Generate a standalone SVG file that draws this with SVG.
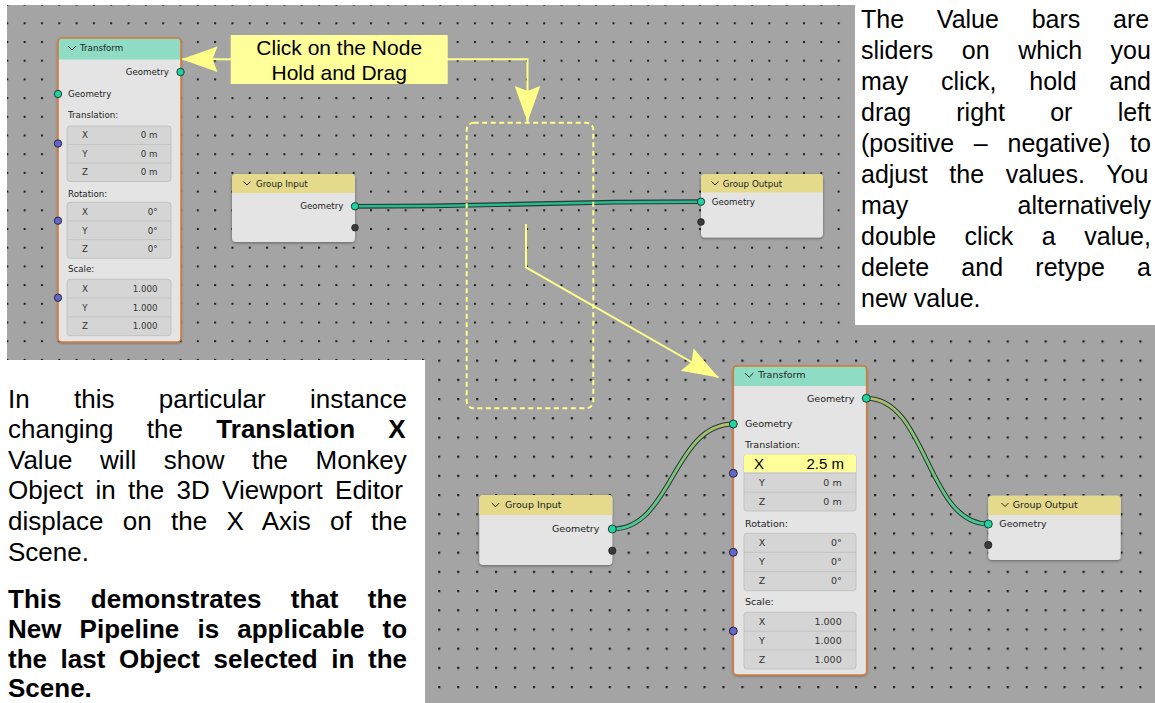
<svg xmlns="http://www.w3.org/2000/svg" width="1155" height="703" viewBox="0 0 1155 703">
<defs>
<style>
.bg{fill:#a4a4a4}
.nbody{fill:#e4e4e4}
.sel{fill:none;stroke:#d77a3a;stroke-width:1.6}
.hdrT{fill:#8fdcc5}
.hdrG{fill:#e5da8b}
.t{font-family:"DejaVu Sans",sans-serif;fill:#1c1c1c}
.t1{font-size:8.7px}
.t2{font-size:9.5px}
.fl{fill:#d5d5d5;stroke:#bcbcbc;stroke-width:0.8}
.sep{stroke:#c0c0c0;stroke-width:0.8}
.fv{fill:#333}
.chev{fill:none;stroke:#222;stroke-width:1}
.sg{fill:#1fd3a2;stroke:#161616;stroke-width:0.8}
.sv{fill:#6565cc;stroke:#161616;stroke-width:0.8}
.sd{fill:#3a3a3a;stroke:#161616;stroke-width:0.6}
.ann{fill:none;stroke:#ffff88;stroke-width:2}
.doc{font-family:"Liberation Sans",Arial,sans-serif;fill:#000}
.lo{fill:none;stroke:#263b33;stroke-width:4.8}
</style>
<pattern id="dotsA" patternUnits="userSpaceOnUse" x="6.3" y="22.3" width="17.32" height="18.7">
<rect width="2" height="2" fill="#1e1e1e"/>
</pattern>
<pattern id="dotsB" patternUnits="userSpaceOnUse" x="874" y="398" width="18.95" height="19.2">
<rect width="2.2" height="2.2" fill="#1e1e1e"/>
</pattern>
<filter id="shadow" x="-15%" y="-15%" width="130%" height="130%">
<feDropShadow dx="0" dy="1" stdDeviation="1.6" flood-color="#000" flood-opacity="0.4"/>
</filter>
<marker id="stealth" viewBox="-37 -14 38 28" refX="0" refY="0" markerWidth="38" markerHeight="28" markerUnits="userSpaceOnUse" orient="auto">
<path d="M0,0 L-36,-12.8 L-31,0 L-36,12.8 Z" fill="#ffff88"/>
</marker>
<linearGradient id="g1" gradientUnits="userSpaceOnUse" x1="612" y1="0" x2="733" y2="0">
<stop offset="0" stop-color="#35c99a"/><stop offset="1" stop-color="#c2bb66"/>
</linearGradient>
<linearGradient id="g2" gradientUnits="userSpaceOnUse" x1="866" y1="0" x2="988" y2="0">
<stop offset="0" stop-color="#c2bb66"/><stop offset="1" stop-color="#35c99a"/>
</linearGradient>
</defs>

<rect width="1155" height="703" fill="#ffffff"/>
<g id="backgrounds">
<path class="bg" d="M7,5 H855 V330 H425 V360 H7 Z"/>
<path d="M7,5 H855 V330 H425 V360 H7 Z" fill="url(#dotsA)"/>
<path class="bg" d="M425,330 H855 V325 H1155 V703 H425 Z"/>
<path d="M425,330 H855 V325 H1155 V703 H425 Z" fill="url(#dotsB)"/>
</g>

<g id="connectors">
<path class="lo" d="M355,206.3 C528,206.3 528,201.7 701,201.7"/>
<path fill="none" stroke="#27b990" stroke-width="2.6" d="M355,206.3 C528,206.3 528,201.7 701,201.7"/>
<path class="lo" d="M612.3,529 C672,529 673,424 733.3,424"/>
<path fill="none" stroke="url(#g1)" stroke-width="2.8" d="M612.3,529 C672,529 673,424 733.3,424"/>
<path class="lo" d="M866.7,398.3 C927,398.3 927,524 988.3,524"/>
<path fill="none" stroke="url(#g2)" stroke-width="2.8" d="M866.7,398.3 C927,398.3 927,524 988.3,524"/>
<path class="ann" d="M231,59.3 H181.5" marker-end="url(#stealth)"/>
<path class="ann" d="M447,59.3 H527.5 V122" marker-end="url(#stealth)"/>
<path class="ann" d="M526,224 V267.3 L718.5,377.5" marker-end="url(#stealth)"/>
</g>

<g id="drag-region">
<rect x="466.7" y="122.7" width="126.6" height="285.6" rx="7" fill="none" stroke="#ffff88" stroke-width="2" stroke-dasharray="5 3.5"/>
</g>

<g id="callout">
<rect x="230.7" y="35" width="217" height="49" fill="#ffff99"/>
<text class="doc" x="339.2" y="54.5" font-size="21" text-anchor="middle">Click on the Node</text>
<text class="doc" x="339.2" y="79.5" font-size="21" text-anchor="middle">Hold and Drag</text>
</g>

<g id="node-transform-top">
<rect x="58" y="38" width="123" height="304" rx="4" class="nbody" filter="url(#shadow)"/>
<path class="hdrT" d="M58,59.5 V42 A4,4 0 0 1 62,38 H177 A4,4 0 0 1 181,42 V59.5 Z"/>
<rect x="58" y="38" width="123" height="304" rx="4" class="sel"/>
<path class="chev" d="M68,46 L72,50 L76,46"/>
<text class="t t1" x="80" y="51">Transform</text>
<text class="t t1" x="169" y="75.2" text-anchor="end">Geometry</text>
<text class="t t1" x="68" y="97.3">Geometry</text>
<text class="t t1" x="68" y="118.3">Translation:</text>
<rect class="fl" x="67" y="126" width="104" height="55.5" rx="3"/>
<path class="sep" d="M67,144.5 H171 M67,163 H171"/>
<g class="t t1 fv">
<text x="85" y="138.4" text-anchor="middle">X</text><text x="157.5" y="138.4" text-anchor="end">0 m</text>
<text x="85" y="156.9" text-anchor="middle">Y</text><text x="157.5" y="156.9" text-anchor="end">0 m</text>
<text x="85" y="175.4" text-anchor="middle">Z</text><text x="157.5" y="175.4" text-anchor="end">0 m</text>
</g>
<text class="t t1" x="68" y="197.3">Rotation:</text>
<rect class="fl" x="67" y="202.3" width="104" height="56" rx="3"/>
<path class="sep" d="M67,221 H171 M67,239.6 H171"/>
<g class="t t1 fv">
<text x="85" y="214.8" text-anchor="middle">X</text><text x="157.5" y="214.8" text-anchor="end">0°</text>
<text x="85" y="233.5" text-anchor="middle">Y</text><text x="157.5" y="233.5" text-anchor="end">0°</text>
<text x="85" y="252.1" text-anchor="middle">Z</text><text x="157.5" y="252.1" text-anchor="end">0°</text>
</g>
<text class="t t1" x="68" y="272.3">Scale:</text>
<rect class="fl" x="67" y="279.3" width="104" height="56.4" rx="3"/>
<path class="sep" d="M67,298.1 H171 M67,316.9 H171"/>
<g class="t t1 fv">
<text x="85" y="291.8" text-anchor="middle">X</text><text x="157.5" y="291.8" text-anchor="end">1.000</text>
<text x="85" y="310.6" text-anchor="middle">Y</text><text x="157.5" y="310.6" text-anchor="end">1.000</text>
<text x="85" y="329.4" text-anchor="middle">Z</text><text x="157.5" y="329.4" text-anchor="end">1.000</text>
</g>
<circle class="sg" cx="180.5" cy="72" r="3.7"/>
<circle class="sg" cx="58" cy="94" r="3.7"/>
<circle class="sv" cx="58" cy="143.5" r="3.7"/>
<circle class="sv" cx="58" cy="220.7" r="3.7"/>
<circle class="sv" cx="58" cy="297.7" r="3.7"/>
</g>

<g id="node-group-input-top">
<rect x="232" y="174" width="123" height="68" rx="4" class="nbody" filter="url(#shadow)"/>
<path class="hdrG" d="M232,193 V178 A4,4 0 0 1 236,174 H351 A4,4 0 0 1 355,178 V193 Z"/>
<path class="chev" d="M243.5,181.5 L247,185 L250.5,181.5"/>
<text class="t t1" x="256" y="186.5">Group Input</text>
<text class="t t1" x="343.5" y="209.3" text-anchor="end">Geometry</text>
<circle class="sg" cx="355" cy="206.3" r="3.7"/>
<circle class="sd" cx="355" cy="227.7" r="3.4"/>
</g>

<g id="node-group-output-top">
<rect x="701" y="174" width="122" height="63.5" rx="4" class="nbody" filter="url(#shadow)"/>
<path class="hdrG" d="M701,192.5 V178 A4,4 0 0 1 705,174 H819 A4,4 0 0 1 823,178 V192.5 Z"/>
<path class="chev" d="M711.5,181.5 L715,185 L718.5,181.5"/>
<text class="t t1" x="722.7" y="186.5">Group Output</text>
<text class="t t1" x="711.7" y="204.9">Geometry</text>
<circle class="sg" cx="701" cy="201.7" r="3.7"/>
<circle class="sd" cx="701" cy="222" r="3.4"/>
</g>

<g id="node-transform-bottom">
<rect x="733.3" y="366" width="133.4" height="309" rx="4" class="nbody" filter="url(#shadow)"/>
<path class="hdrT" d="M733.3,386 V370 A4,4 0 0 1 737.3,366 H862.7 A4,4 0 0 1 866.7,370 V386 Z"/>
<rect x="733.3" y="366" width="133.4" height="309" rx="4" class="sel"/>
<path class="chev" d="M745,373 L749.2,377.2 L753.4,373"/>
<text class="t t2" x="758.3" y="378.4">Transform</text>
<text class="t t2" x="854.3" y="401.7" text-anchor="end">Geometry</text>
<text class="t t2" x="745" y="427.4">Geometry</text>
<text class="t t2" x="745" y="447.7">Translation:</text>
<rect class="fl" x="744" y="454.3" width="112" height="56.7" rx="3"/>
<path d="M744,472.3 V457.3 A3,3 0 0 1 747,454.3 H853 A3,3 0 0 1 856,457.3 V472.3 Z" fill="#ffff99"/>
<path class="sep" d="M744,473.2 H856 M744,492.1 H856"/>
<text class="doc" x="759" y="468.8" font-size="15" text-anchor="middle">X</text>
<text class="doc" x="844" y="468.8" font-size="15" text-anchor="end">2.5 m</text>
<g class="t t2 fv">
<text x="762" y="486.1" text-anchor="middle">Y</text><text x="841.7" y="486.1" text-anchor="end">0 m</text>
<text x="762" y="505" text-anchor="middle">Z</text><text x="841.7" y="505" text-anchor="end">0 m</text>
</g>
<text class="t t2" x="745" y="526.5">Rotation:</text>
<rect class="fl" x="744" y="533.3" width="112" height="57.4" rx="3"/>
<path class="sep" d="M744,552.4 H856 M744,571.6 H856"/>
<g class="t t2 fv">
<text x="762" y="546.1" text-anchor="middle">X</text><text x="841.7" y="546.1" text-anchor="end">0°</text>
<text x="762" y="565.2" text-anchor="middle">Y</text><text x="841.7" y="565.2" text-anchor="end">0°</text>
<text x="762" y="584.4" text-anchor="middle">Z</text><text x="841.7" y="584.4" text-anchor="end">0°</text>
</g>
<text class="t t2" x="745" y="605">Scale:</text>
<rect class="fl" x="744" y="612.3" width="112" height="56.7" rx="3"/>
<path class="sep" d="M744,631.2 H856 M744,650.1 H856"/>
<g class="t t2 fv">
<text x="762" y="625.1" text-anchor="middle">X</text><text x="841.7" y="625.1" text-anchor="end">1.000</text>
<text x="762" y="644" text-anchor="middle">Y</text><text x="841.7" y="644" text-anchor="end">1.000</text>
<text x="762" y="662.9" text-anchor="middle">Z</text><text x="841.7" y="662.9" text-anchor="end">1.000</text>
</g>
<circle class="sg" cx="866.3" cy="398.3" r="4"/>
<circle class="sg" cx="733.3" cy="424" r="4"/>
<circle class="sv" cx="733.3" cy="473.3" r="4"/>
<circle class="sv" cx="733.3" cy="552.3" r="4"/>
<circle class="sv" cx="733.3" cy="631" r="4"/>
</g>

<g id="node-group-input-bottom">
<rect x="479.3" y="495" width="133" height="70" rx="4" class="nbody" filter="url(#shadow)"/>
<path class="hdrG" d="M479.3,515 V499 A4,4 0 0 1 483.3,495 H608.3 A4,4 0 0 1 612.3,499 V515 Z"/>
<path class="chev" d="M491.7,503 L495.5,506.8 L499.3,503"/>
<text class="t t2" x="505" y="508.4">Group Input</text>
<text class="t t2" x="599.3" y="532.4" text-anchor="end">Geometry</text>
<circle class="sg" cx="612.3" cy="529" r="4"/>
<circle class="sd" cx="612.3" cy="550.7" r="3.7"/>
</g>

<g id="node-group-output-bottom">
<rect x="988.3" y="495.7" width="132.4" height="64.3" rx="4" class="nbody" filter="url(#shadow)"/>
<path class="hdrG" d="M988.3,515 V499.7 A4,4 0 0 1 992.3,495.7 H1116.7 A4,4 0 0 1 1120.7,499.7 V515 Z"/>
<path class="chev" d="M1001.5,503 L1005,506.5 L1008.5,503"/>
<text class="t t2" x="1012.7" y="508.4">Group Output</text>
<text class="t t2" x="999.3" y="527.4">Geometry</text>
<circle class="sg" cx="988.3" cy="524" r="4"/>
<circle class="sd" cx="988.3" cy="545" r="3.7"/>
</g>

<g id="text-right" class="doc" font-size="25">
<text x="861" y="27.5" style="word-spacing:25.8px">The Value bars are</text>
<text x="861" y="58.5" style="word-spacing:21.6px">sliders on which you</text>
<text x="861" y="89.5" style="word-spacing:25.8px">may click, hold and</text>
<text x="861" y="120.5" style="word-spacing:38.3px">drag right or left</text>
<text x="861" y="151.5" style="word-spacing:12.8px">(positive – negative) to</text>
<text x="861" y="182.5" style="word-spacing:14.7px">adjust the values. You</text>
<text x="861" y="213.5" style="word-spacing:102.4px">may alternatively</text>
<text x="861" y="244.5" style="word-spacing:21.6px">double click a value,</text>
<text x="861" y="275.5" style="word-spacing:25.3px">delete and retype a</text>
<text x="861" y="306.5">new value.</text>
</g>

<g id="text-left" class="doc" font-size="26">
<text x="8" y="407.5" style="word-spacing:37.1px">In this particular instance</text>
<text x="8" y="438" style="word-spacing:26.1px">changing the <tspan font-weight="bold">Translation X</tspan></text>
<text x="8" y="468.5" style="word-spacing:20.3px">Value will show the Monkey</text>
<text x="8" y="499.3" style="word-spacing:5.1px">Object in the 3D Viewport Editor</text>
<text x="8" y="530" style="word-spacing:12.1px">displace on the X Axis of the</text>
<text x="8" y="560.5">Scene.</text>
<text x="8" y="608" font-weight="bold" style="word-spacing:22.2px">This demonstrates that the</text>
<text x="8" y="638.3" font-weight="bold" style="word-spacing:10.9px">New Pipeline is applicable to</text>
<text x="8" y="668.3" font-weight="bold" style="word-spacing:6.4px">the last Object selected in the</text>
<text x="8" y="697.3" font-weight="bold">Scene.</text>
</g>
</svg>
